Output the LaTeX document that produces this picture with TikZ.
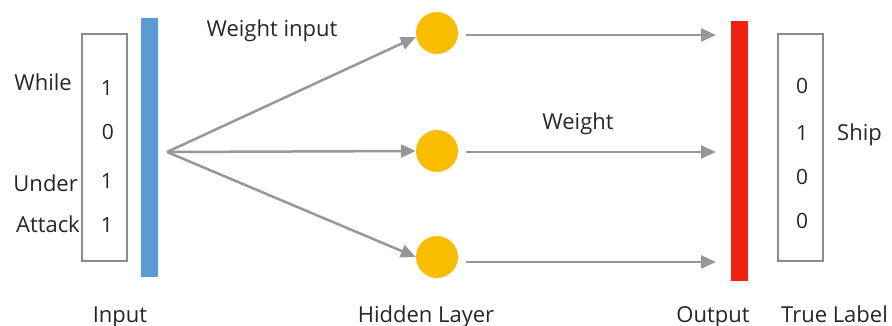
\documentclass[tikz,border=0pt]{standalone}
\usepackage{fontspec}
\setmainfont{Open Sans}
\usetikzlibrary{arrows.meta,calc}
\definecolor{linegray}{HTML}{979797}
\definecolor{boxgray}{HTML}{8C8C8C}
\definecolor{barblue}{HTML}{5B9BD5}
\definecolor{barred}{HTML}{EE2211}
\definecolor{nodegold}{HTML}{F8BC00}
\definecolor{txt}{HTML}{262626}
\tikzset{
  lbl/.style={font=\fontsize{22}{25}\selectfont, text=txt, inner sep=0pt, anchor=base},
  digit/.style={font=\fontsize{21}{24}\selectfont, text=txt, inner sep=0pt, anchor=base},
  vecbox/.style={draw=boxgray, line width=2pt, inner sep=0pt, minimum width=45pt, minimum height=227pt},
  bar/.style={inner sep=0pt, minimum width=17pt},
  neuron/.style={circle, fill=nodegold, inner sep=0pt, minimum size=42pt},
  arr/.style={draw=linegray, line width=2.5pt, -{Triangle[length=15pt,width=13pt]}},
}
\begin{document}
\begin{tikzpicture}[x=1pt,y=-1pt]
\useasboundingbox (0,0) rectangle (892,326);

% input vector and its bar
\node[vecbox] (inbox) at (104.5,147.5) {};
\node[bar, fill=barblue, minimum height=259pt] (inbar) at (149.5,147.5) {};
\node[digit] (i1) at (107,96) {1};
\node[digit] (i2) at (108,140) {0};
\node[digit] (i3) at (107,189) {1};
\node[digit] (i4) at (107,232) {1};
\node[lbl, anchor=base east] (w1) at (72,91) {While};
\node[lbl, anchor=base east] (w2) at (78,191) {Under};
\node[lbl, anchor=base east] (w3) at (80,232) {Attack};

% hidden layer
\coordinate (src) at (167,152);
\node[neuron] (h1) at (437,33) {};
\node[neuron] (h2) at (437,151) {};
\node[neuron] (h3) at (437,257) {};

% output bar and true label vector
\node[bar, fill=barred, minimum height=260pt] (outbar) at (739.5,151) {};
\coordinate (o1) at (716,35);
\coordinate (o2) at (716,152);
\coordinate (o3) at (716,262);
\node[vecbox] (tbox) at (800.5,147.5) {};
\node[digit] (t1) at (802,94) {0};
\node[digit] (t2) at (802,141) {1};
\node[digit] (t3) at (802,185) {0};
\begin{scope}
  \clip (780,200) rectangle (822,227);
  \node[digit] (t4) at (802,229) {0};
\end{scope}
\node[lbl, anchor=base west] (ship) at (837,141) {Ship};

% connections
\draw[arr] (src) -- ([yshift=-4pt]h1.west);
\draw[arr] (src) -- (h2.west);
\draw[arr] (src) -- (h3.west);
\draw[arr, shorten <=8pt] (h1.east |- o1) -- (o1);
\draw[arr, shorten <=8pt] (h2.east |- o2) -- (o2);
\draw[arr, shorten <=8pt] (h3.east |- o3) -- (o3);

% captions
\node[lbl] (cw1) at (272,37) {Weight input};
\node[lbl] (cw2) at (578,130) {Weight};
\node[lbl] (c1) at (120,322) {Input};
\node[lbl] (c2) at (426,322) {Hidden Layer};
\node[lbl] (c3) at (713,322) {Output};
\node[lbl, anchor=base west] (c4) at (781,322) {True Label};
\end{tikzpicture}
\end{document}
